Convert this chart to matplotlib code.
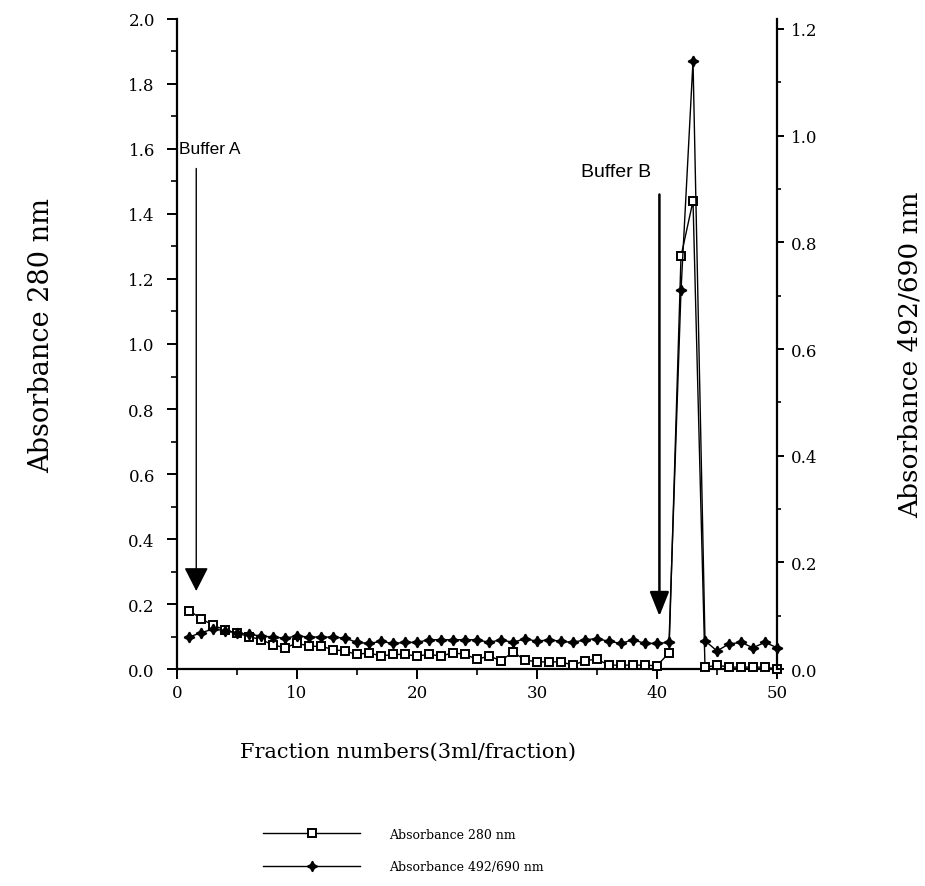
import matplotlib
matplotlib.use("Agg")
import matplotlib.pyplot as plt
from matplotlib.ticker import MultipleLocator, FormatStrFormatter
from matplotlib.lines import Line2D

# ---------------- data ----------------
fractions = list(range(1, 51))
abs_280 = [0.18, 0.155, 0.135, 0.12, 0.11, 0.10, 0.09, 0.075, 0.065, 0.08,
           0.07, 0.07, 0.06, 0.055, 0.045, 0.05, 0.04, 0.045, 0.045, 0.04,
           0.045, 0.04, 0.05, 0.045, 0.03, 0.04, 0.026, 0.052, 0.028, 0.022,
           0.022, 0.022, 0.012, 0.026, 0.03, 0.012, 0.012, 0.012, 0.012, 0.01,
           0.05, 1.27, 1.44, 0.005, 0.012, 0.006, 0.006, 0.006, 0.006, 0.0]
abs_492 = [0.06, 0.068, 0.075, 0.072, 0.068, 0.065, 0.062, 0.06, 0.058, 0.062,
           0.06, 0.06, 0.06, 0.058, 0.05, 0.048, 0.052, 0.048, 0.05, 0.05,
           0.055, 0.055, 0.055, 0.055, 0.055, 0.05, 0.055, 0.05, 0.057, 0.052,
           0.055, 0.052, 0.05, 0.055, 0.057, 0.052, 0.048, 0.055, 0.048, 0.048,
           0.05, 0.71, 1.14, 0.053, 0.034, 0.047, 0.05, 0.04, 0.05, 0.04]

left_ticks = [0.0, 0.2, 0.4, 0.6, 0.8, 1.0, 1.2, 1.4, 1.6, 1.8, 2.0]
right_ticks = [0.0, 0.2, 0.4, 0.6, 0.8, 1.0, 1.2]
x_ticks = [0, 10, 20, 30, 40, 50]

buffer_labels = ["Buffer A", "Buffer B"]
buffer_fraction = [1.6, 40.2]

serif = "DejaVu Serif"

fig = plt.figure(figsize=(9.25, 8.87), dpi=100)
ax = fig.add_axes([0.1914, 0.2446, 0.6486, 0.7329])
ax2 = ax.twinx()

star = (4, 1, 0)

ax.plot(fractions, abs_280, color="black", lw=1.0, marker="s", markersize=5.3,
        markerfacecolor="white", markeredgecolor="black", markeredgewidth=1.4,
        clip_on=False, zorder=3)
ax2.plot(fractions, abs_492, color="black", lw=1.0, marker=star, markersize=7.5,
         markerfacecolor="black", markeredgecolor="black", markeredgewidth=1.2,
         clip_on=False, zorder=2)

ax.set_xlim(0, 50)
ax.set_ylim(0, 2.0)
ax2.set_ylim(0, 1.2 / 0.9846)

ax.set_xticks(x_ticks)
ax.xaxis.set_minor_locator(MultipleLocator(5))
ax.set_yticks(left_ticks)
ax.yaxis.set_minor_locator(MultipleLocator(0.1))
ax.yaxis.set_major_formatter(FormatStrFormatter("%.1f"))
ax2.set_yticks(right_ticks)
ax2.yaxis.set_minor_locator(MultipleLocator(0.1))
ax2.yaxis.set_major_formatter(FormatStrFormatter("%.1f"))

for a in (ax, ax2):
    a.spines["top"].set_visible(False)
    for s in a.spines.values():
        s.set_linewidth(1.6)
ax.spines["right"].set_visible(False)
ax2.spines["left"].set_visible(False)
ax2.spines["bottom"].set_visible(False)

ax.tick_params(axis="y", which="major", direction="out", length=7, width=1.4,
               labelsize=12, pad=9)
ax.tick_params(axis="x", which="major", direction="out", length=7, width=1.4,
               labelsize=12, pad=4)
ax.tick_params(axis="both", which="minor", direction="out", length=4, width=1.2)
ax2.tick_params(axis="y", which="major", direction="out", length=5, width=1.4,
                labelsize=12, pad=5)
ax2.tick_params(axis="y", which="minor", direction="out", length=3, width=1.2)
for lab in ax.get_xticklabels() + ax.get_yticklabels() + ax2.get_yticklabels():
    lab.set_fontfamily(serif)

# Buffer annotations
ax.annotate("", xy=(buffer_fraction[0], 0.24), xytext=(buffer_fraction[0], 1.54),
            arrowprops=dict(arrowstyle="-|>,head_length=0.55,head_width=0.28",
                        mutation_scale=27, color="black", lw=1.0, shrinkA=0, shrinkB=0))
ax.text(0.15, 1.60, buffer_labels[0], fontsize=12.5, family="Liberation Sans",
        ha="left", va="center")
ax.annotate("", xy=(buffer_fraction[1], 0.163), xytext=(buffer_fraction[1], 1.46),
            arrowprops=dict(arrowstyle="-|>,head_length=0.55,head_width=0.22",
                        mutation_scale=27, color="black", lw=1.8, shrinkA=0, shrinkB=0))
ax.text(33.7, 1.53, buffer_labels[1], fontsize=14, family="Liberation Sans",
        ha="left", va="center")

# axis titles
fig.text(0.045, 0.622, "Absorbance 280 nm", rotation=90, ha="center", va="center",
         fontsize=19.5, family=serif)
fig.text(0.984, 0.60, "Absorbance 492/690 nm", rotation=90, ha="center", va="center",
         fontsize=19, family=serif)
fig.text(0.441, 0.152, "Fraction numbers(3ml/fraction)", ha="center", va="center",
         fontsize=15, family=serif)

# legend
h1 = Line2D([], [], color="black", lw=1.0, marker="s", markersize=5.3,
            markerfacecolor="white", markeredgecolor="black", markeredgewidth=1.4)
h2 = Line2D([], [], color="black", lw=1.0, marker=star, markersize=7.5,
            markerfacecolor="black", markeredgecolor="black")
fig.legend([h1, h2], ["Absorbance 280 nm", "Absorbance 492/690 nm"],
           loc="center", bbox_to_anchor=(0.436, 0.040), frameon=False,
           numpoints=1, handlelength=7.8, handletextpad=2.3, labelspacing=1.55,
           prop={"family": serif, "size": 9})

fig.savefig("out.png", dpi=100, facecolor="white")
